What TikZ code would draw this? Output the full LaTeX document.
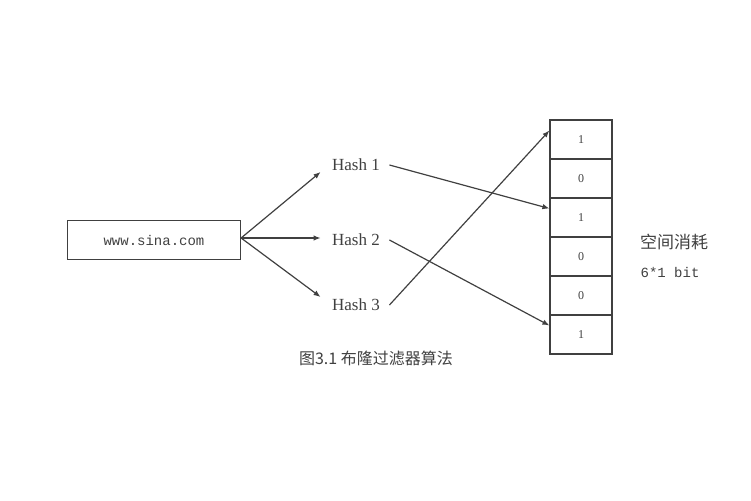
\documentclass[tikz,border=0pt]{standalone}
\usepackage{fontspec}
\setmainfont{Liberation Serif}
\setmonofont{Liberation Mono}
\newfontfamily\cjk{Noto Sans CJK SC}
\usetikzlibrary{arrows.meta}
\begin{document}
\begin{tikzpicture}[x=1pt,y=-1pt,line width=1.2,draw=black!75,text=black!75]
\tikzstyle{every node} = [inner sep=0];
\tikzstyle{cell} = [draw,minimum width=62,minimum height=39,font=\fontsize{12}{14}\selectfont];
\tikzstyle{arr} = [-{Latex[length=7,width=5.5]}];
\useasboundingbox (0,0) rectangle (751,500);
\node at (154,240) [draw,minimum width=173,minimum height=39,font=\ttfamily\fontsize{14}{16}\selectfont] (url) {www.sina.com};
\foreach \i/\y/\d in {1/165/-7, 2/240/2, 3/305/8}{
	\node at (356,\y) [font=\fontsize{17}{19}\selectfont] (h\i) {Hash \i};
	\path[arr] ([yshift=2]url.east) edge ([xshift=-11,yshift=\d]h\i.west);
}
\foreach \i/\v in {0/1, 1/0, 2/1, 3/0, 4/0, 5/1}{
	\node at (581,139.5+39*\i) [cell] (c\i) {\v};
}
\foreach \i/\j in {1/2, 2/5, 3/0}{
	\path[arr] ([xshift=9]h\i.east) edge ([yshift=9]c\j.west);
}
\node at (674,242) [font=\cjk\fontsize{17}{19}\selectfont] (cost) {空间消耗};
\node at (670,272) [font=\ttfamily\fontsize{14}{16}\selectfont] (bits) {6*1 bit};
\node at (376,358) [font=\cjk\fontsize{16}{18}\selectfont] (cap) {图3.1 布隆过滤器算法};
\end{tikzpicture}
\end{document}
